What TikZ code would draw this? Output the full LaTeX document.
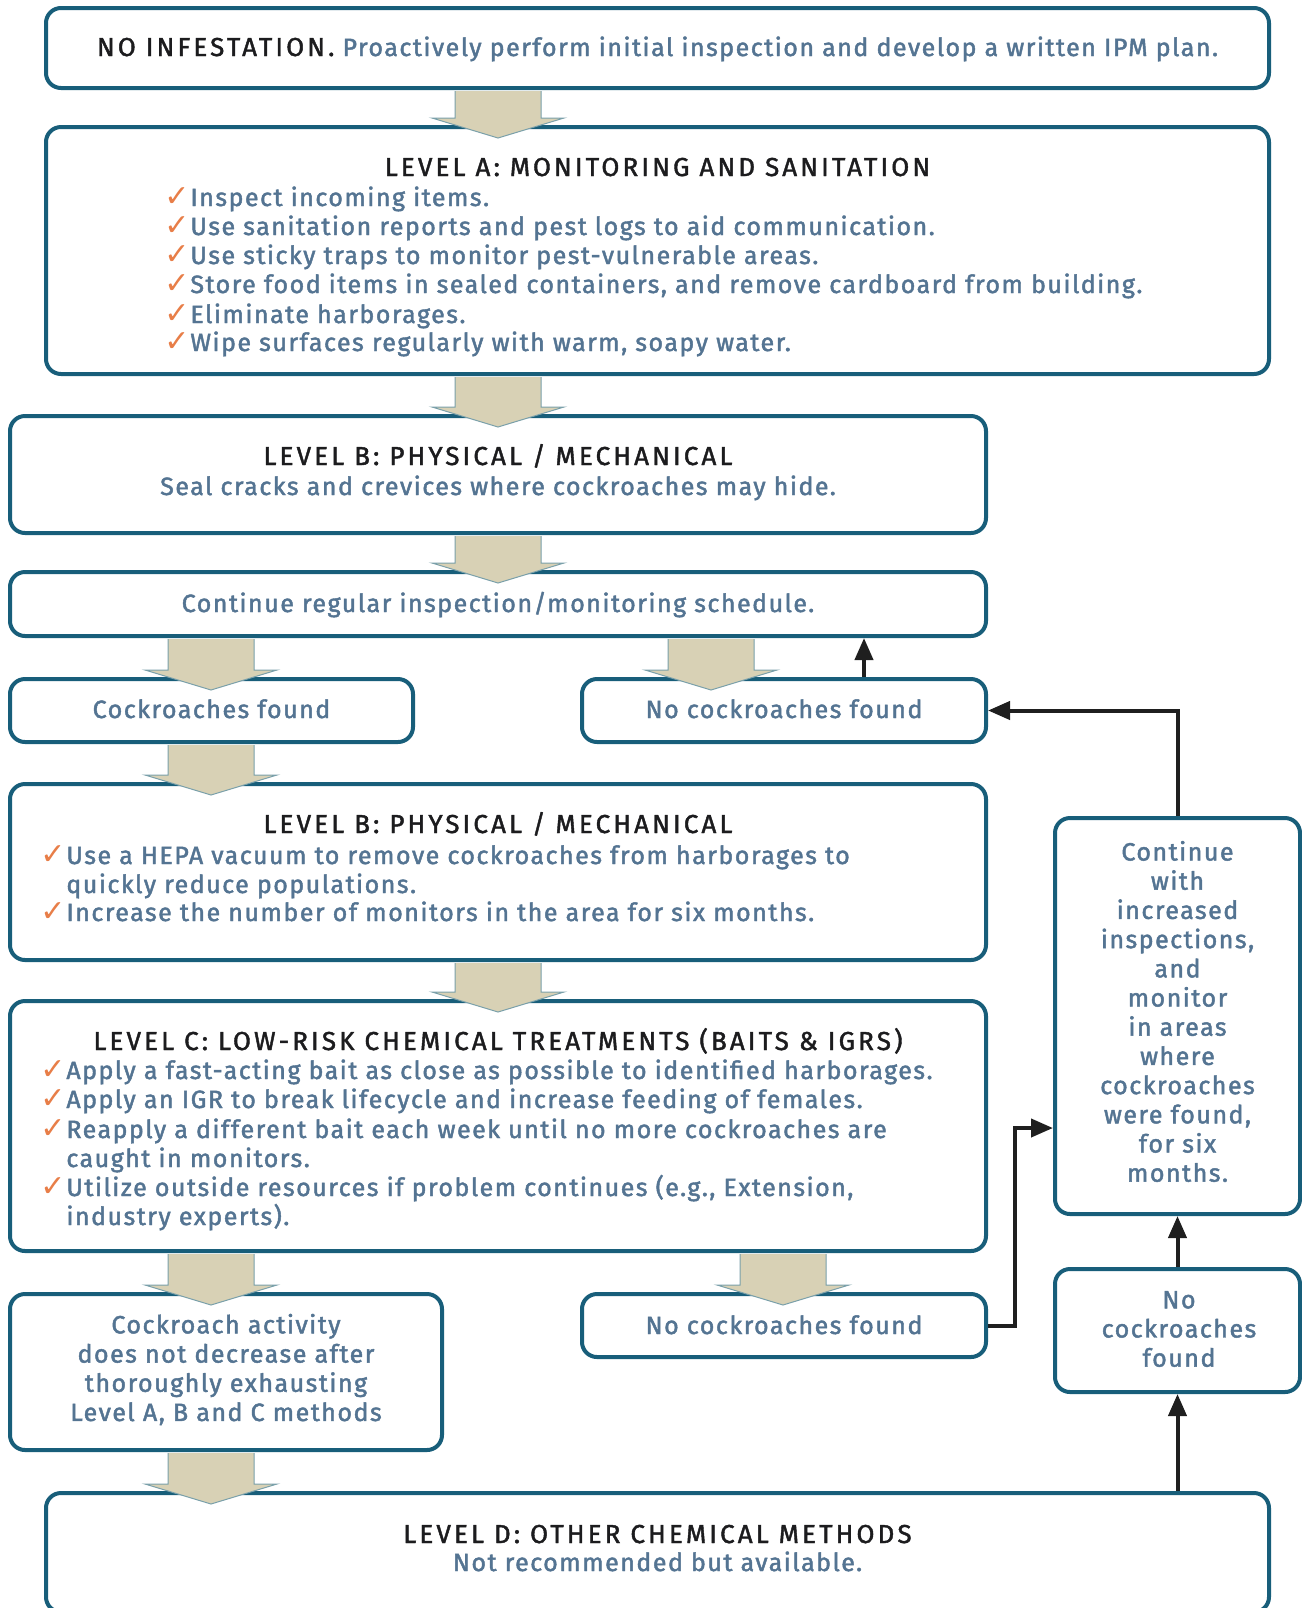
\documentclass[tikz,border=0pt]{standalone}
\usepackage{fontspec}
\setmainfont{Fira Sans}
\newfontfamily\bodyfont[LetterSpace=6, FakeBold=1.8]{Fira Sans}
\newfontfamily\titlefont[LetterSpace=12, FakeBold=1.6]{Fira Sans}
\newfontfamily\checkfont{DejaVu Sans Bold}
\usetikzlibrary{arrows.meta,calc}
\definecolor{bordc}{RGB}{24,94,122}
\definecolor{slate}{RGB}{84,116,146}
\definecolor{ttl}{RGB}{28,28,30}
\definecolor{chk}{RGB}{232,126,72}
\definecolor{beige}{RGB}{216,209,181}
\definecolor{arredge}{RGB}{122,160,170}
\newcommand\ck{\llap{\textcolor{chk}{\fontsize{15}{14.6}\checkfont ✓}\hspace{0.5pt}}}
\newcommand\bigarr[3]{%
  \coordinate (ax) at (#3,0);
  \filldraw[bigarrow] ($(#1.south -| ax)+(-43,1)$) -- ($(#2.north -| ax)+(-43,-7)$)
    -- ($(#2.north -| ax)+(-66,-7)$) -- ($(#2.north -| ax)+(0,13)$)
    -- ($(#2.north -| ax)+(66,-7)$) -- ($(#2.north -| ax)+(43,-7)$)
    -- ($(#1.south -| ax)+(43,1)$);}
\tikzset{
  box/.style={draw=bordc, line width=2pt, rounded corners=7.5pt, fill=white, inner sep=0pt},
  body/.style={text=slate, font=\bodyfont\fontsize{12.5}{14.6}\selectfont, inner sep=0pt},
  ttlt/.style={text=ttl, font=\titlefont\fontsize{13}{14.6}\selectfont, inner sep=0pt},
  bigarrow/.style={fill=beige, draw=arredge, line width=0.5pt},
  link/.style={draw=black!88, line width=2pt, -{Triangle[length=11pt,width=9pt]}},
}
\begin{document}
\begin{tikzpicture}[x=0.5pt,y=-0.5pt]
\useasboundingbox (0,0) rectangle (1302,1608);
% boxes
\node[box, minimum width=611.5pt, minimum height=40pt]   (top)   at (657.5,48) {};
\node[box, minimum width=611.5pt, minimum height=123.5pt] (levA) at (657.5,250.5) {};
\node[box, minimum width=488pt, minimum height=58.5pt]   (levB1) at (498,474.5) {};
\node[box, minimum width=488pt, minimum height=32pt]     (cont)  at (498,604) {};
\node[box, minimum width=201.5pt, minimum height=31.5pt] (cf)    at (211.5,710.5) {};
\node[box, minimum width=202pt, minimum height=31.5pt]   (ncf1)  at (784,710.5) {};
\node[box, minimum width=488pt, minimum height=88pt]     (levB2) at (498,872) {};
\node[box, minimum width=488pt, minimum height=125pt]    (levC)  at (498,1126) {};
\node[box, minimum width=216pt, minimum height=78pt]     (act)   at (226,1372) {};
\node[box, minimum width=202pt, minimum height=31.5pt]   (ncf2)  at (784,1325.5) {};
\node[box, minimum width=122.5pt, minimum height=198pt]  (contw) at (1177.5,1016) {};
\node[box, minimum width=122.5pt, minimum height=61.5pt] (ncf3)  at (1177.5,1330.5) {};
\node[box, minimum width=611.5pt, minimum height=59.5pt] (levD)  at (657.5,1552.5) {};
% big arrows
\bigarr{top}{levA}{498}
\bigarr{levA}{levB1}{498}
\bigarr{levB1}{cont}{498}
\bigarr{cont}{cf}{211}
\bigarr{cont}{ncf1}{711}
\bigarr{cf}{levB2}{211}
\bigarr{levB2}{levC}{498}
\bigarr{levC}{act}{211}
\bigarr{levC}{ncf2}{783}
\bigarr{act}{levD}{211}
% black links
\coordinate (lx1) at (864,0);
\draw[link] (ncf1.north -| lx1) -- (cont.south -| lx1);
\draw[link] (contw.north) |- (ncf1.east);
\coordinate (j) at (1015,1128);
\draw[link] (ncf2.east) -| (j) -- (contw.west |- j);
\draw[link] (ncf3.north) -- (contw.south);
\draw[link] (levD.north -| ncf3.south) -- (ncf3.south);
% texts
\node[body, anchor=base] (t0) at (657.5,56) {\textcolor{ttl}{\titlefont\fontsize{13}{14.6}\selectfont NO INFESTATION.} Proactively perform initial inspection and develop a written IPM plan.};
\node[ttlt, anchor=base] (ta) at (657.5,176) {LEVEL A: MONITORING AND SANITATION};
\node[body, anchor=base west] (a1) at (190,206) {\ck Inspect incoming items.};
\node[body, anchor=base west] (a2) at (190,235) {\ck Use sanitation reports and pest logs to aid communication.};
\node[body, anchor=base west] (a3) at (190,264) {\ck Use sticky traps to monitor pest-vulnerable areas.};
\node[body, anchor=base west] (a4) at (190,293) {\ck Store food items in sealed containers, and remove cardboard from building.};
\node[body, anchor=base west] (a5) at (190,323) {\ck Eliminate harborages.};
\node[body, anchor=base west] (a6) at (190,351) {\ck Wipe surfaces regularly with warm, soapy water.};
\node[ttlt, anchor=base] (tb1) at (498,465) {LEVEL B: PHYSICAL / MECHANICAL};
\node[body, anchor=base] (b1) at (498,495) {Seal cracks and crevices where cockroaches may hide.};
\node[body, anchor=base] (tc) at (498,612) {Continue regular inspection/monitoring schedule.};
\node[body, anchor=base] (tcf) at (211.5,718) {Cockroaches found};
\node[body, anchor=base] (tn1) at (784,718) {No cockroaches found};
\node[ttlt, anchor=base] (tb2) at (498,833) {LEVEL B: PHYSICAL / MECHANICAL};
\node[body, anchor=base west] (b21) at (66,864) {\ck Use a HEPA vacuum to remove cockroaches from harborages to};
\node[body, anchor=base west] (b22) at (66,893) {quickly reduce populations.};
\node[body, anchor=base west] (b23) at (66,921) {\ck Increase the number of monitors in the area for six months.};
\node[ttlt, anchor=base] (tlc) at (498,1050) {LEVEL C: LOW-RISK CHEMICAL TREATMENTS (BAITS \& IGRS)};
\node[body, anchor=base west] (c1) at (66,1079) {\ck Apply a fast-acting bait as close as possible to identified harborages.};
\node[body, anchor=base west] (c2) at (66,1108) {\ck Apply an IGR to break lifecycle and increase feeding of females.};
\node[body, anchor=base west] (c3) at (66,1138) {\ck Reapply a different bait each week until no more cockroaches are};
\node[body, anchor=base west] (c4) at (66,1167) {caught in monitors.};
\node[body, anchor=base west] (c5) at (66,1196) {\ck Utilize outside resources if problem continues (e.g., Extension,};
\node[body, anchor=base west] (c6) at (66,1225) {industry experts).};
\node[body, align=center] (tact) at (226,1369.5) {Cockroach activity\\does not decrease after\\thoroughly exhausting\\Level A, B and C methods};
\node[body, anchor=base] (tn2) at (784,1334) {No cockroaches found};
\node[body, align=center] (tcw) at (1177.5,1011.5) {Continue\\with\\increased\\inspections,\\and\\monitor\\in areas\\where\\cockroaches\\were found,\\for six\\months.};
\node[body, align=center] (tn3) at (1179,1329) {No\\cockroaches\\found};
\node[ttlt, anchor=base] (tld) at (657.5,1543) {LEVEL D: OTHER CHEMICAL METHODS};
\node[body, anchor=base] (d1) at (657.5,1571) {Not recommended but available.};
\end{tikzpicture}
\end{document}
